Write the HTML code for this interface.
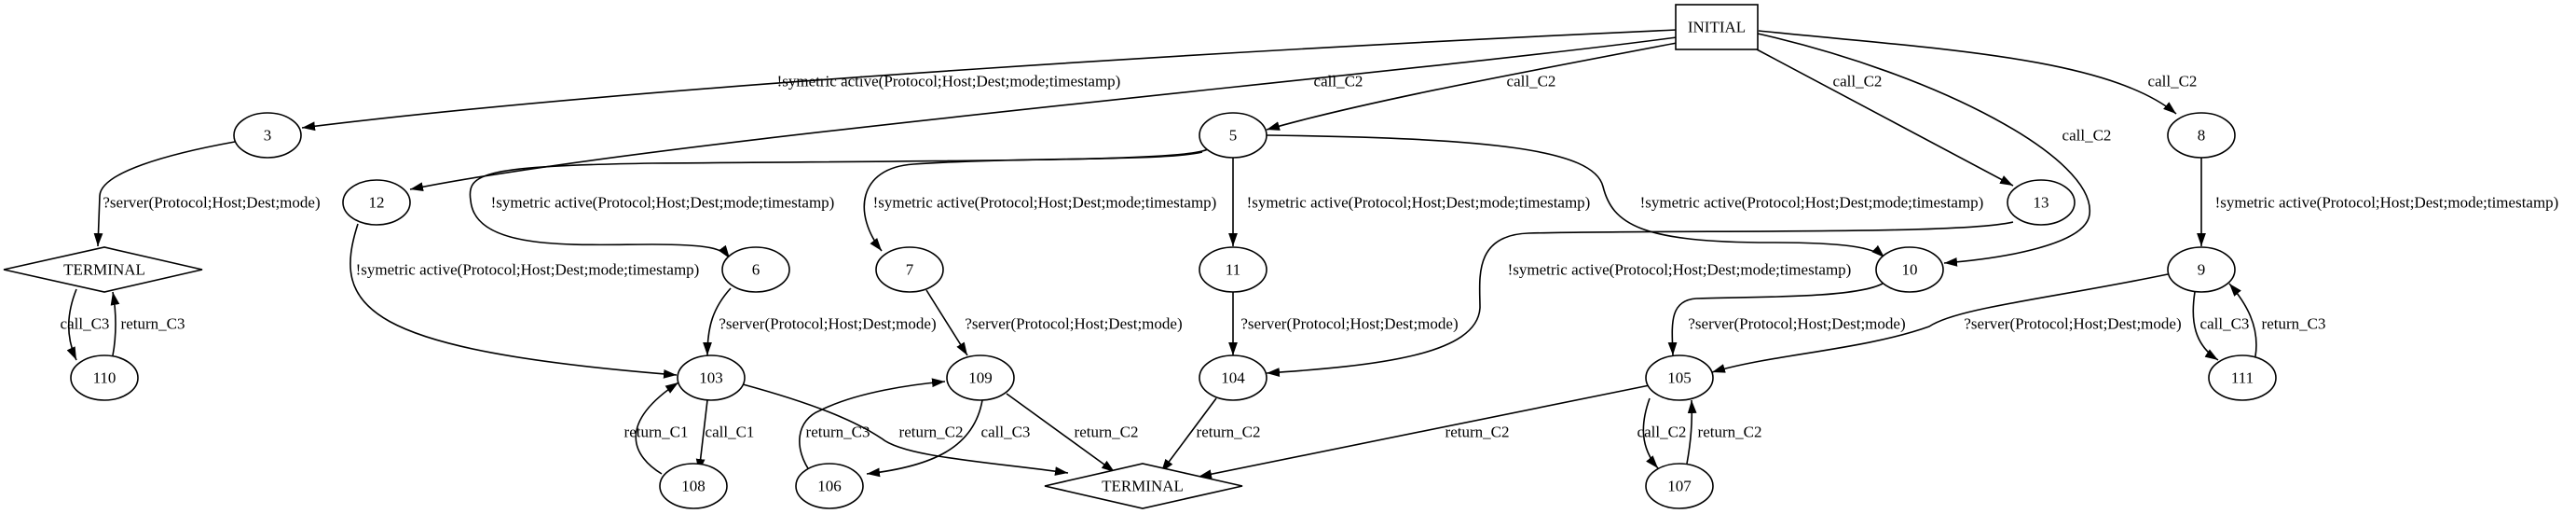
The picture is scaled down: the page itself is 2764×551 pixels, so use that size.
<!DOCTYPE html>
<html><head><meta charset="utf-8"><style>
html,body{margin:0;padding:0;background:#fff;}
svg{display:block;}
text{font-family:"Liberation Serif",serif;font-size:17px;fill:#000;}
</style></head><body>
<svg width="2764" height="551" viewBox="0 0 2764 551" xmlns="http://www.w3.org/2000/svg">
<defs><marker id="b" viewBox="0 0 10 10" refX="10" refY="5" markerWidth="14" markerHeight="14" markerUnits="userSpaceOnUse" orient="auto"><path d="M0,1.5 L10,5 L0,8.5 z" fill="#000"/></marker></defs>
<g fill="none" stroke="#000" stroke-width="1.6" marker-end="url(#b)">
<path d="M1799,32 C1400,50 700,90 324,137"/>
<path d="M1799,40 C1500,80 700,150 440,203"/>
<path d="M1799,46 C1620,80 1460,110 1359,139"/>
<path d="M1885,53 L2160,199"/>
<path d="M1886,36 C2080,80 2250,170 2242,230 C2238,262 2150,277 2086,282"/>
<path d="M1887,33 C2070,52 2260,60 2335,122"/>
<path d="M2362,169 L2362,264"/>
<path d="M2355,313 C2350,345 2355,370 2380,386"/>
<path d="M2420,382 C2425,350 2410,325 2392,304"/>
<path d="M2326,294 C2200,320 2100,330 2070,350 C2000,375 1900,380 1837,399"/>
<path d="M2020,304 C1990,320 1880,318 1820,320 C1790,322 1794,350 1795,381"/>
<path d="M1359,145 C1600,148 1710,160 1720,200 C1730,240 1760,260 1900,260 C1980,260 2010,265 2022,276"/>
<path d="M2160,238 C2100,252 1800,246 1640,250 C1580,252 1588,300 1588,330 C1585,380 1480,392 1359,400"/>
<path d="M1296,160 C1270,172 1100,172 700,175 C520,178 500,185 505,215 C510,270 620,262 700,262 C760,262 775,266 783,277"/>
<path d="M1290,163 C1250,173 1100,168 980,176 C920,180 915,230 946,269"/>
<path d="M1323,169 L1323,264"/>
<path d="M252,152 C180,165 108,185 107,210 L105,264"/>
<path d="M82,310 C72,335 70,360 82,386"/>
<path d="M121,381 C125,360 125,335 121,313"/>
<path d="M384,240 C355,330 390,375 726,402"/>
<path d="M784,309 C765,330 759,350 759,381"/>
<path d="M994,311 L1038,381"/>
<path d="M1323,312 L1323,381"/>
<path d="M759,429 L750,506"/>
<path d="M710,508 C680,490 660,455 728,410"/>
<path d="M797,412 C900,440 930,460 946,470 C970,490 1060,495 1146,507"/>
<path d="M1054,429 C1045,480 1000,500 930,508"/>
<path d="M871,508 C850,480 855,450 880,440 C920,420 980,412 1014,409"/>
<path d="M1080,422 L1196,506"/>
<path d="M1305,427 L1246,506"/>
<path d="M1770,413 L1286,511"/>
<path d="M1770,427 C1760,455 1760,480 1779,502"/>
<path d="M1810,497 C1815,470 1816,450 1815,429"/>
</g>
<g fill="#fff" stroke="#000" stroke-width="1.6">
<rect x="1798" y="5" width="88" height="48"/>
<ellipse cx="287" cy="145" rx="36" ry="24"/>
<ellipse cx="1323" cy="145" rx="36" ry="24"/>
<ellipse cx="2362" cy="145" rx="36" ry="24"/>
<ellipse cx="404" cy="217" rx="36" ry="24"/>
<ellipse cx="2190" cy="217" rx="36" ry="24"/>
<ellipse cx="811" cy="289" rx="36" ry="24"/>
<ellipse cx="976" cy="289" rx="36" ry="24"/>
<ellipse cx="1323" cy="289" rx="36" ry="24"/>
<ellipse cx="2049" cy="289" rx="36" ry="24"/>
<ellipse cx="2362" cy="289" rx="36" ry="24"/>
<ellipse cx="112" cy="405" rx="36" ry="24"/>
<ellipse cx="763" cy="405" rx="36" ry="24"/>
<ellipse cx="1052" cy="405" rx="36" ry="24"/>
<ellipse cx="1323" cy="405" rx="36" ry="24"/>
<ellipse cx="1802" cy="405" rx="36" ry="24"/>
<ellipse cx="2406" cy="405" rx="36" ry="24"/>
<ellipse cx="744" cy="521" rx="36" ry="24"/>
<ellipse cx="890" cy="521" rx="36" ry="24"/>
<ellipse cx="1802" cy="521" rx="36" ry="24"/>
<polygon points="4,289 112,265 217,289 112,313"/>
<polygon points="1121,521 1226,497 1333,521 1226,545"/>
</g>
<g text-anchor="middle" dominant-baseline="central">
<text x="1842" y="29">INITIAL</text>
<text x="287" y="145">3</text><text x="1323" y="145">5</text><text x="2362" y="145">8</text>
<text x="404" y="217">12</text><text x="2190" y="217">13</text>
<text x="811" y="289">6</text><text x="976" y="289">7</text><text x="1323" y="289">11</text><text x="2049" y="289">10</text><text x="2362" y="289">9</text>
<text x="112" y="405">110</text><text x="763" y="405">103</text><text x="1052" y="405">109</text><text x="1323" y="405">104</text><text x="1802" y="405">105</text><text x="2406" y="405">111</text>
<text x="744" y="521">108</text><text x="890" y="521">106</text><text x="1802" y="521">107</text>
<text x="112" y="289">TERMINAL</text><text x="1226" y="521">TERMINAL</text>
<text x="1018" y="87">!symetric active(Protocol;Host;Dest;mode;timestamp)</text>
<text x="1436" y="87">call_C2</text><text x="1643" y="87">call_C2</text><text x="1993" y="87">call_C2</text><text x="2331" y="87">call_C2</text>
<text x="2239" y="145">call_C2</text>
<text x="227" y="217">?server(Protocol;Host;Dest;mode)</text>
<text x="711" y="217">!symetric active(Protocol;Host;Dest;mode;timestamp)</text>
<text x="1121" y="217">!symetric active(Protocol;Host;Dest;mode;timestamp)</text>
<text x="1522" y="217">!symetric active(Protocol;Host;Dest;mode;timestamp)</text>
<text x="1944" y="217">!symetric active(Protocol;Host;Dest;mode;timestamp)</text>
<text x="2561" y="217">!symetric active(Protocol;Host;Dest;mode;timestamp)</text>
<text x="566" y="289">!symetric active(Protocol;Host;Dest;mode;timestamp)</text>
<text x="1802" y="289">!symetric active(Protocol;Host;Dest;mode;timestamp)</text>
<text x="888" y="347">?server(Protocol;Host;Dest;mode)</text>
<text x="1152" y="347">?server(Protocol;Host;Dest;mode)</text>
<text x="1448" y="347">?server(Protocol;Host;Dest;mode)</text>
<text x="1928" y="347">?server(Protocol;Host;Dest;mode)</text>
<text x="2224" y="347">?server(Protocol;Host;Dest;mode)</text>
<text x="91" y="347">call_C3</text><text x="164" y="347">return_C3</text>
<text x="2387" y="347">call_C3</text><text x="2461" y="347">return_C3</text>
<text x="704" y="463">return_C1</text><text x="783" y="463">call_C1</text>
<text x="899" y="463">return_C3</text><text x="999" y="463">return_C2</text><text x="1079" y="463">call_C3</text>
<text x="1187" y="463">return_C2</text><text x="1318" y="463">return_C2</text>
<text x="1585" y="463">return_C2</text><text x="1783" y="463">call_C2</text><text x="1856" y="463">return_C2</text>
</g>
</svg>
</body></html>
